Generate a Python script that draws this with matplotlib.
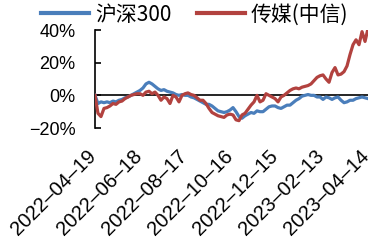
import numpy as np
import pandas as pd
import matplotlib
matplotlib.use("Agg")
import matplotlib.pyplot as plt
import matplotlib.dates as mdates
from matplotlib.ticker import FuncFormatter

# 区间收益率(%)，2022-04-19 ~ 2023-04-14，约每4天取一个点
start = "2022-04-19"
end = "2023-04-14"
hs300 = [0, -5, -4, -4.5, -4, -4.5, -3.5, -4, -3, -2.5, -1.5, -1, 0, 1, 2, 3,
         4.5, 7, 8, 7, 5.5, 4, 3, 3.5, 2.5, 2, 1.5, 0.5, 0, 0.5, 0, 0,
         -1, -1.5, -2.5, -3.5, -4.5, -5.5, -5.5, -6.5, -8, -9.5, -10, -10.5, -10, -9,
         -7.5, -10, -13, -14, -12.5, -11.5, -10.5, -11, -9.5, -10, -10, -8.5, -7, -6.5,
         -6.5, -7.5, -8, -7, -6, -6, -4.5, -3, -2, -0.5, 0, 0.5, 0, 0,
         -1, -1, -2.5, -1, -1.5, -2.5, -1.5, -1, -3, -4.5, -4, -3, -3, -2,
         -1.5, -1, -1.5, -2]
media = [0, -11, -13, -8, -7.5, -6.5, -5, -5.5, -4, -3.5, -2, -1, 0, 0.5, 1, 1,
         0, 2, 2.5, 1, 2, 0, -3, -1, -2, -5, 0, -1, -4, 0, 1, 1.5,
         0.5, 0, -1.5, -3, -3, -5, -8, -10.5, -11.5, -12.5, -13, -13.5, -12, -11.5,
         -12, -15, -15.5, -12, -11, -8.5, -6, -4, 0, -4, -3, 1, 0, -1,
         -2, -4, -1, 0, 1.5, 3, 4, 4.5, 4, 5, 5.5, 6, 7, 9,
         11, 12, 12.5, 10, 8, 14, 17, 12.5, 13, 14.5, 18, 25, 31, 34,
         31, 39, 33, 41]
names = ["沪深300", "传媒(中信)"]
colors = ["#4A7EBB", "#B2423F"]

plt.rcParams['font.family'] = ['Liberation Sans', 'Noto Sans CJK SC']

fig = plt.figure(figsize=(3.71, 2.42), dpi=100)
ax = fig.add_axes([0.256, 0.471, 0.736, 0.405])

t0, t1 = pd.Timestamp(start), pd.Timestamp(end)
for vals, name, c in zip([hs300, media], names, colors):
    dates = pd.date_range(t0, t1, periods=len(vals))
    ax.plot(dates, vals, color=c, lw=2.3, label=name, zorder=3)

ax.axhline(0, color='black', lw=1.2, zorder=2)
ax.set_xlim(t0, t1)
ax.set_ylim(-20, 40)
ax.set_yticks([-20, 0, 20, 40])
ax.yaxis.set_major_formatter(FuncFormatter(lambda v, p: f"{v:.0f}%".replace("-", "\u2212")))

# 日期标签：斜放在绘图区下方
ticks = pd.date_range(t0, t1, freq="60D")
ax.set_xticks(ticks)
ax.set_xticklabels([])
for d in ticks:
    ax.annotate(d.strftime("%Y\u2013%m\u2013%d"), xy=(mdates.date2num(d), 0),
                xycoords=ax.get_xaxis_transform(),
                xytext=(-6, -13.5), textcoords='offset points', rotation=45,
                ha='right', va='top', rotation_mode='anchor', fontsize=14.5,
                annotation_clip=False)

for s in ['top', 'right', 'bottom']:
    ax.spines[s].set_visible(False)
ax.spines['left'].set_linewidth(1.2)
ax.tick_params(axis='y', direction='in', length=4, width=1.2, labelsize=13, pad=14)
ax.tick_params(axis='x', length=0)

fig.legend(loc='center', bbox_to_anchor=(0.525, 0.94), ncol=2, frameon=False,
           handlelength=2.3, handletextpad=0.3, columnspacing=1.2,
           prop={'family': ['Noto Sans CJK SC'], 'size': 15})
for lh in fig.legends[0].get_lines():
    lh.set_linewidth(3)

fig.savefig("out.png", dpi=100)
